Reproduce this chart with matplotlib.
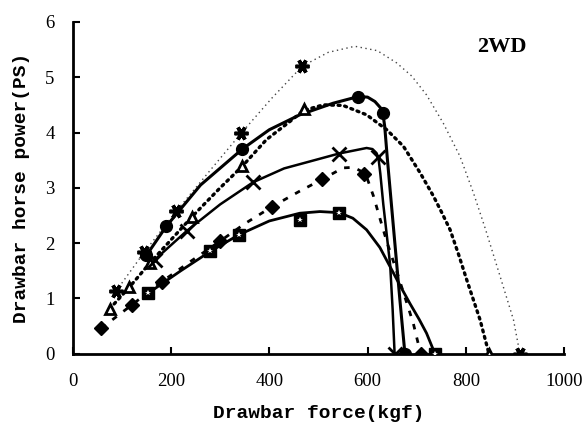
import numpy as np
import matplotlib
matplotlib.use("Agg")
import matplotlib.pyplot as plt

# markers (drawbar force kgf, drawbar horse power PS)
star_f = [88, 145, 211, 343, 467, 910]
star_p = [1.13, 1.83, 2.58, 3.99, 5.20, 0]
tri_f = [75, 115, 157, 242, 345, 470, 847]
tri_p = [0.81, 1.20, 1.64, 2.47, 3.39, 4.42, 0]
dot_f = [150, 190, 345, 581, 631, 676]
dot_p = [1.78, 2.30, 3.70, 4.65, 4.36, 0]
x_f = [167, 232, 367, 542, 622, 655]
x_p = [1.70, 2.22, 3.10, 3.62, 3.55, 0]
dia_f = [58, 120, 181, 299, 406, 507, 593, 708]
dia_p = [0.46, 0.88, 1.30, 2.03, 2.66, 3.15, 3.25, 0]
sq_f = [153, 280, 338, 462, 542, 737]
sq_p = [1.09, 1.85, 2.15, 2.42, 2.55, 0]

# curves
star_cf = [88, 145, 211, 280, 343, 405, 467, 520, 574, 620, 659, 690, 720, 754, 788, 815, 840, 870, 897, 910]
star_cp = [1.13, 1.83, 2.58, 3.32, 3.99, 4.62, 5.20, 5.45, 5.56, 5.48, 5.26, 5.02, 4.68, 4.17, 3.57, 2.92, 2.25, 1.39, 0.61, 0]
tri_cf = [75, 115, 157, 242, 300, 345, 394, 442, 470, 510, 550, 598, 639, 673, 707, 734, 750, 768, 785, 802, 829, 847]
tri_cp = [0.81, 1.20, 1.64, 2.47, 3.00, 3.39, 3.87, 4.20, 4.40, 4.50, 4.49, 4.32, 4.05, 3.75, 3.27, 2.85, 2.57, 2.24, 1.80, 1.33, 0.61, 0]
dot_cf = [150, 190, 260, 345, 400, 462, 530, 581, 600, 615, 626, 631, 635, 640, 648, 657, 666, 676]
dot_cp = [1.78, 2.30, 3.05, 3.70, 4.05, 4.32, 4.53, 4.65, 4.64, 4.56, 4.45, 4.36, 4.10, 3.55, 2.75, 1.85, 0.95, 0]
x_cf = [167, 232, 300, 367, 430, 484, 542, 598, 610, 618, 622, 626, 632, 639, 646, 651, 655]
x_cp = [1.70, 2.22, 2.70, 3.10, 3.35, 3.48, 3.62, 3.72, 3.70, 3.63, 3.55, 3.25, 2.70, 2.15, 1.60, 0.80, 0]
dia_cf = [58, 120, 181, 240, 299, 350, 406, 460, 507, 550, 572, 593, 600, 612, 625, 640, 657, 675, 693, 708]
dia_cp = [0.46, 0.88, 1.30, 1.67, 2.03, 2.35, 2.66, 2.93, 3.15, 3.36, 3.37, 3.27, 3.15, 2.85, 2.45, 2.00, 1.55, 1.05, 0.55, 0]
sq_cf = [153, 220, 280, 338, 400, 462, 503, 542, 570, 598, 625, 646, 668, 686, 705, 720, 737]
sq_cp = [1.09, 1.50, 1.85, 2.15, 2.40, 2.54, 2.57, 2.55, 2.45, 2.24, 1.92, 1.57, 1.20, 0.91, 0.62, 0.37, 0]

fig = plt.figure(figsize=(5.87, 4.22), dpi=100)
ax = fig.add_axes([0.124, 0.162, 0.837, 0.786])

# curves
ax.plot(star_cf, star_cp, color="#444444", lw=1.0, ls=(0, (1, 2.5)))
ax.plot(tri_cf, tri_cp, color="black", lw=2.4, ls=(0, (0.6, 1.4)), dash_capstyle="round")
ax.plot(dot_cf, dot_cp, color="black", lw=2.2)
ax.plot(x_cf, x_cp, color="black", lw=1.8)
ax.plot(dia_cf, dia_cp, color="black", lw=2.0, ls=(0, (2, 3)))
ax.plot(sq_cf, sq_cp, color="black", lw=2.0)

# markers
ax.plot(star_f, star_p, ls="none", marker=(6, 2, 90), ms=10, mew=2.6, color="black", zorder=5)
ax.plot(tri_f, tri_p, ls="none", marker="^", ms=7.5, mew=2.0, mfc="white", mec="black", zorder=5)
ax.plot(dot_f, dot_p, ls="none", marker="o", ms=8.5, color="black", zorder=5)
ax.plot(x_f, x_p, ls="none", marker="x", ms=9.5, mew=2.0, color="black", zorder=5)
ax.plot(dia_f, dia_p, ls="none", marker="D", ms=7, color="black", zorder=5)
ax.plot(sq_f, sq_p, ls="none", marker="s", ms=8, color="black", zorder=5)
ax.plot(sq_f, sq_p, ls="none", marker="*", ms=4, color="white", mew=0, zorder=6)

ax.set_xlim(0, 1000)
ax.set_ylim(0, 6)
ax.set_xticks(np.arange(0, 1001, 200))
ax.set_yticks(np.arange(0, 7, 1))

for s in ["top", "right"]:
    ax.spines[s].set_visible(False)
for s in ["left", "bottom"]:
    ax.spines[s].set_linewidth(2)

ax.tick_params(direction="in", length=5, width=1.5)
ax.tick_params(axis="x", pad=14)
ax.tick_params(axis="y", pad=13)
for lab in ax.get_xticklabels() + ax.get_yticklabels():
    lab.set_fontfamily("Liberation Serif")
    lab.set_fontsize(13.5)

ax.set_xlabel("Drawbar force(kgf)", fontfamily="Liberation Mono", fontweight="bold", fontsize=14)
ax.set_ylabel("Drawbar horse power(PS)", fontfamily="Liberation Mono", fontweight="bold", fontsize=14)
ax.xaxis.set_label_coords(0.5, -0.155)
ax.yaxis.set_label_coords(-0.088, 0.5)

ax.text(874, 5.55, "2WD", fontfamily="Liberation Serif", fontweight="bold", fontsize=16,
        ha="center", va="center")

fig.savefig("out.png", dpi=100)
